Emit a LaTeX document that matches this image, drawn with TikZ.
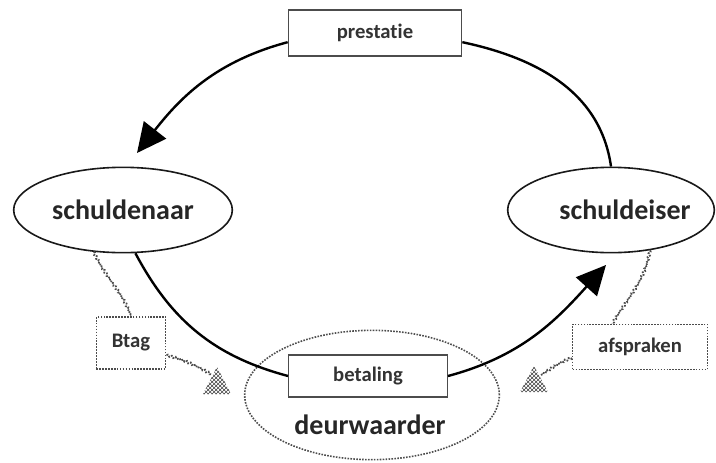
\documentclass[tikz,border=0pt]{standalone}
\usepackage{fontspec}
\setmainfont{Carlito}[Ligatures={NoCommon,NoContextual}]
\usetikzlibrary{shapes.geometric,arrows.meta,patterns,decorations.pathmorphing,calc}
\tikzset{
  bigtxt/.style={font=\fontsize{21}{24}\selectfont\bfseries, text=black!85},
  smalltxt/.style={font=\fontsize{15.5}{18}\selectfont\bfseries, text=black!80},
  solidbox/.style={draw=black!70, line width=1pt, fill=white, rectangle, inner sep=0pt, smalltxt},
  dotbox/.style={draw=black!70, densely dotted, line width=1.2pt, fill=white, rectangle, inner sep=0pt, smalltxt},
  party/.style={draw=black!90, line width=1.2pt, ellipse, inner sep=0pt, bigtxt},
  flow/.style={line width=1.8pt, black},
  flowtip/.style={flow, -{Triangle[length=22pt,width=21pt]}},
  link/.style={draw=black!70, line width=1.3pt, densely dotted, decorate,
               decoration={snake, amplitude=0.7pt, segment length=3pt}},
  hatch/.style={pattern=crosshatch, pattern color=black!75}
}
\begin{document}
\begin{tikzpicture}[x=0.75pt,y=0.75pt]
\useasboundingbox (0,0) rectangle (716,462);

% parties
\node[party, minimum width=164pt, minimum height=64pt] (sna) at (123,252) {schuldenaar};
\node[party, minimum width=155pt, minimum height=64pt] (sei) at (611,252) {};
\node[bigtxt] (seitxt) at (625,252) {schuldeiser};

% deurwaarder
\node[ellipse, draw=black!70, densely dotted, line width=1.2pt, minimum width=191pt, minimum height=97pt] (deur) at (372,67) {};
\node[bigtxt] (deurtxt) at (370,37) {deurwaarder};

% boxes
\node[solidbox, minimum width=130pt, minimum height=34.5pt] (prest) at (375,429) {prestatie};
\node[solidbox, minimum width=119pt, minimum height=31.5pt] (bet) at (368,86) {betaling};
\node[dotbox, minimum width=52pt, minimum height=39pt] (btag) at (131,119) {Btag};
\node[dotbox, minimum width=101pt, minimum height=34pt] (afs) at (640,115) {afspraken};

% arrow tips
\coordinate (tipL) at (137,309);
\coordinate (tipR) at (606,197);

% main cycle
\draw[flowtip] (prest.186) to[out=195,in=52] (tipL);
\draw[flow] (prest.-6) to[out=-12,in=98] (sei.north);
\draw[flow] (sna.-74) to[out=-62,in=165] (bet.west);
\draw[flowtip] (bet.east) to[out=15,in=-132] (tipR);

% hatched triangles
\coordinate (t1) at (217,68);
\coordinate (t2) at (534,70);
\fill[hatch] ($(t1)+(-14,0)$) -- ($(t1)+(0,27)$) -- ($(t1)+(14,0)$) -- cycle;
\fill[hatch] ($(t2)+(-14,0)$) -- ($(t2)+(0,26)$) -- ($(t2)+(14,0)$) -- cycle;
\coordinate (t1in) at (212,87);
\coordinate (t2in) at (541,87);

% dotted links
\draw[link] (sna.-125) to[out=-65,in=110] (btag.north);
\draw[link] (btag.-19) to[out=-15,in=150] (t1in);
\draw[link] (sei.-46) to[out=-100,in=60] (afs.140);
\draw[link] (afs.189) to[out=200,in=30] (t2in);
\end{tikzpicture}
\end{document}
